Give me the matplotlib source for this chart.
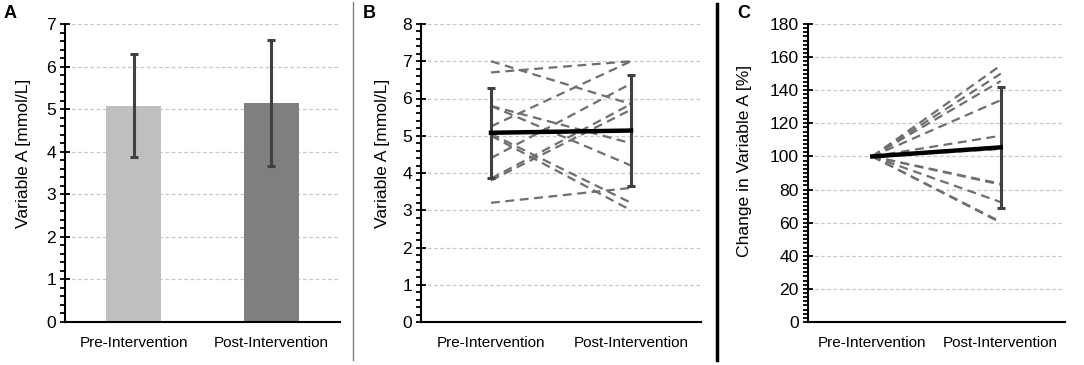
import matplotlib
matplotlib.use("Agg")
import matplotlib.pyplot as plt
from matplotlib.ticker import MultipleLocator
import numpy as np

plt.rcParams['font.family'] = ['Liberation Sans', 'DejaVu Sans']

groups = ["Pre-Intervention", "Post-Intervention"]

# panel A / B summary
mean_vals = [5.08, 5.14]
err_low = [3.87, 3.66]
err_high = [6.29, 6.62]

# panel B individual subjects
pre_vals = [7.0, 6.7, 5.8, 5.8, 5.25, 5.05, 5.0, 4.4, 3.85, 3.8, 3.2]
post_vals = [5.85, 7.0, 4.8, 4.2, 7.0, 3.2, 3.0, 6.4, 5.85, 5.7, 3.6]

# panel C percent change
pct_pre = [100] * 11
pct_post = [83.5, 104.5, 83.0, 72.4, 134.0, 60.5, 60.0, 145.5, 155.0, 150.0, 112.5]
pct_mean = [100, 105.5]
pct_low = 69
pct_high = 142

bar_cols = ["#bfbfbf", "#7f7f7f"]
err_col = "#404040"
line_col = "#6f6f6f"
grid_col = "#c8c8c8"

fig = plt.figure(figsize=(10.84, 3.65), dpi=100)
W, H = 1084, 365

def mk_ax(x0, x1, y0=24, y1=322):
    return fig.add_axes([x0 / W, 1 - y1 / H, (x1 - x0) / W, (y1 - y0) / H])

def style(ax, ymax, major, minor, ylabel, lab_x, lab_y):
    ax.set_xlim(-0.5, 1.5)
    ax.set_ylim(0, ymax)
    ax.yaxis.set_major_locator(MultipleLocator(major))
    ax.yaxis.set_minor_locator(MultipleLocator(minor))
    ax.set_xticks([0, 1])
    ax.set_xticklabels(groups, fontsize=11)
    ax.tick_params(axis='x', length=0, pad=10)
    ax.tick_params(axis='y', which='major', direction='inout', length=7, width=1.3, labelsize=12.6, pad=3)
    ax.tick_params(axis='y', which='minor', direction='out', length=3.5, width=1.3)
    for s in ['top', 'right']:
        ax.spines[s].set_visible(False)
    for s in ['left', 'bottom']:
        ax.spines[s].set_linewidth(1.5)
    ax.grid(axis='y', which='major', color=grid_col, linestyle=(0, (3, 2)), linewidth=0.9)
    ax.set_axisbelow(True)
    ax.set_ylabel(ylabel, fontsize=12.6)
    ax.yaxis.set_label_coords(lab_x, lab_y)

x = np.arange(2)

# A
axA = mk_ax(65, 340)
style(axA, 7, 1, 0.2, "Variable A [mmol/L]", -0.124, 0.567)
axA.bar(x, mean_vals, width=0.4, color=bar_cols, zorder=2)
axA.errorbar(x, mean_vals,
             yerr=[np.array(mean_vals) - np.array(err_low), np.array(err_high) - np.array(mean_vals)],
             fmt='none', ecolor=err_col, elinewidth=2.2, capsize=3, capthick=2.2, zorder=3)

# B
axB = mk_ax(421, 701)
style(axB, 8, 1, 0.2, "Variable A [mmol/L]", -0.111, 0.567)
for a, b in zip(pre_vals, post_vals):
    axB.plot(x, [a, b], color=line_col, linestyle=(0, (4, 2.5)), linewidth=1.6, zorder=2)
axB.errorbar(x, mean_vals,
             yerr=[np.array(mean_vals) - np.array(err_low), np.array(err_high) - np.array(mean_vals)],
             fmt='none', ecolor=err_col, elinewidth=2.2, capsize=3, capthick=2.2, zorder=3)
axB.plot(x, mean_vals, color='black', linewidth=3.2, zorder=4)

# C
axC = mk_ax(808, 1065)
style(axC, 180, 20, 2.5, "Change in Variable A [%]", -0.218, 0.54)
for a, b in zip(pct_pre, pct_post):
    axC.plot(x, [a, b], color=line_col, linestyle=(0, (4, 2.5)), linewidth=1.6, zorder=2)
axC.errorbar([1], [pct_mean[1]], yerr=[[pct_mean[1] - pct_low], [pct_high - pct_mean[1]]],
             fmt='none', ecolor=err_col, elinewidth=2.2, capsize=3, capthick=2.2, zorder=3)
axC.plot(x, pct_mean, color='black', linewidth=3.2, zorder=4)

# panel letters
for lab, px in [("A", 4), ("B", 363), ("C", 737)]:
    fig.text(px / W, 1 - 13 / H, lab, fontsize=13, fontweight='bold', ha='left', va='center')

# separators
fig.add_artist(plt.Line2D([353 / W, 353 / W], [1 - 2 / H, 1 - 360 / H], color='#808080', linewidth=1.0))
fig.add_artist(plt.Line2D([717 / W, 717 / W], [1 - 4 / H, 1 - 360 / H], color='black', linewidth=2.5))

fig.savefig("out.png", dpi=100)
